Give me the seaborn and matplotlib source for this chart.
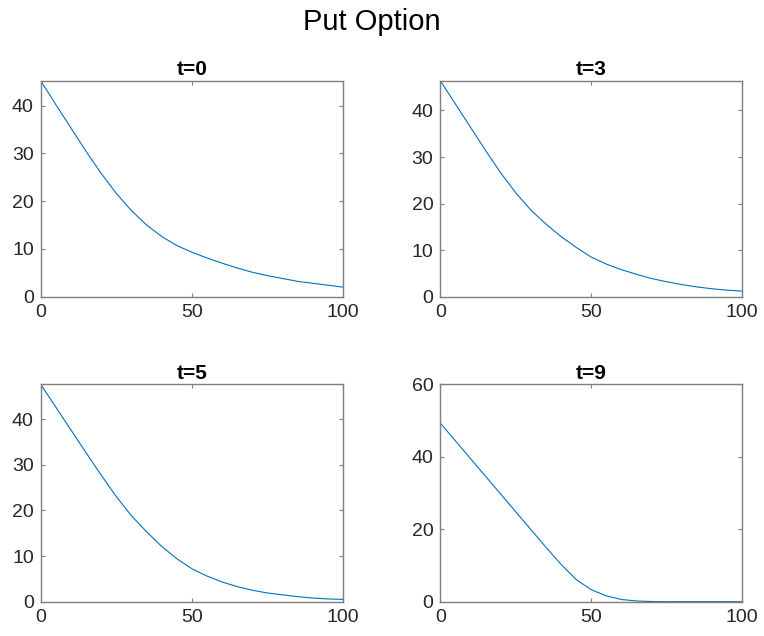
import matplotlib
matplotlib.use("Agg")
import matplotlib.pyplot as plt
import seaborn as sns
import pandas as pd

# Data
stock_price = [0, 5, 10, 15, 20, 25, 30, 35, 40, 45, 50, 55, 60, 65, 70, 75, 80, 85, 90, 95, 100]
put_t0 = [45.2, 40.2, 35.3, 30.4, 25.8, 21.6, 18.0, 15.0, 12.6, 10.7, 9.3, 8.1, 7.0, 6.0, 5.1, 4.4, 3.8, 3.2, 2.8, 2.4, 2.0]
put_t3 = [46.4, 41.4, 36.4, 31.4, 26.6, 22.3, 18.6, 15.6, 12.9, 10.6, 8.5, 7.0, 5.8, 4.8, 3.9, 3.2, 2.6, 2.1, 1.7, 1.4, 1.2]
put_t5 = [47.6, 42.6, 37.6, 32.6, 27.7, 23.0, 18.8, 15.3, 12.1, 9.4, 7.2, 5.6, 4.3, 3.3, 2.5, 1.9, 1.5, 1.1, 0.8, 0.6, 0.5]
put_t9 = [49.3, 44.4, 39.5, 34.6, 29.7, 24.8, 19.9, 15.0, 10.3, 6.1, 3.3, 1.6, 0.6, 0.2, 0.05, 0.0, 0.0, 0.0, 0.0, 0.0, 0.0]
panel_titles = ["t=0", "t=3", "t=5", "t=9"]
series = [put_t0, put_t3, put_t5, put_t9]
y_ticks = [[0, 10, 20, 30, 40], [0, 10, 20, 30, 40], [0, 10, 20, 30, 40], [0, 20, 40, 60]]
y_tops = [max(put_t0), max(put_t3), max(put_t5), 60]
x_ticks = [0, 50, 100]
suptitle = "Put Option"

sns.set_style("ticks")
plt.rcParams["font.family"] = ["Liberation Sans", "DejaVu Sans"]

W, H = 764, 636
fig = plt.figure(figsize=(W / 100, H / 100), dpi=100)

# pixel boxes (left, top, right, bottom)
boxes = [
    (40.7, 80.7, 343.3, 296.7),
    (440.3, 80.7, 742.3, 296.7),
    (40.7, 384.3, 343.3, 601.7),
    (440.3, 384.3, 742.3, 601.7),
]

line_color = "#0072BD"
axis_color = "#262626"

for i, (l, t, r, b) in enumerate(boxes):
    ax = fig.add_axes([l / W, 1 - b / H, (r - l) / W, (b - t) / H])
    df = pd.DataFrame({"S": stock_price, "V": series[i]})
    sns.lineplot(data=df, x="S", y="V", ax=ax, color=line_color, linewidth=0.8)
    ax.set_xlim(0, 100)
    ax.set_ylim(0, y_tops[i])
    ax.set_xticks(x_ticks)
    ax.set_yticks(y_ticks[i])
    ax.set_xlabel("")
    ax.set_ylabel("")
    ax.set_title(panel_titles[i], fontsize=15, fontweight="bold", pad=4, color="black")
    for sp in ax.spines.values():
        sp.set_visible(True)
        sp.set_color("#7f7f7f")
        sp.set_linewidth(1.0)
    ax.tick_params(direction="in", length=3, width=0.8, colors="#7f7f7f",
                   top=True, right=True, labelsize=14, labelcolor=axis_color, pad=5)

fig.text(372 / W, 1 - 22 / H, suptitle, ha="center", va="center", fontsize=21, color="black")

fig.savefig("out.png", dpi=100, facecolor="white")
